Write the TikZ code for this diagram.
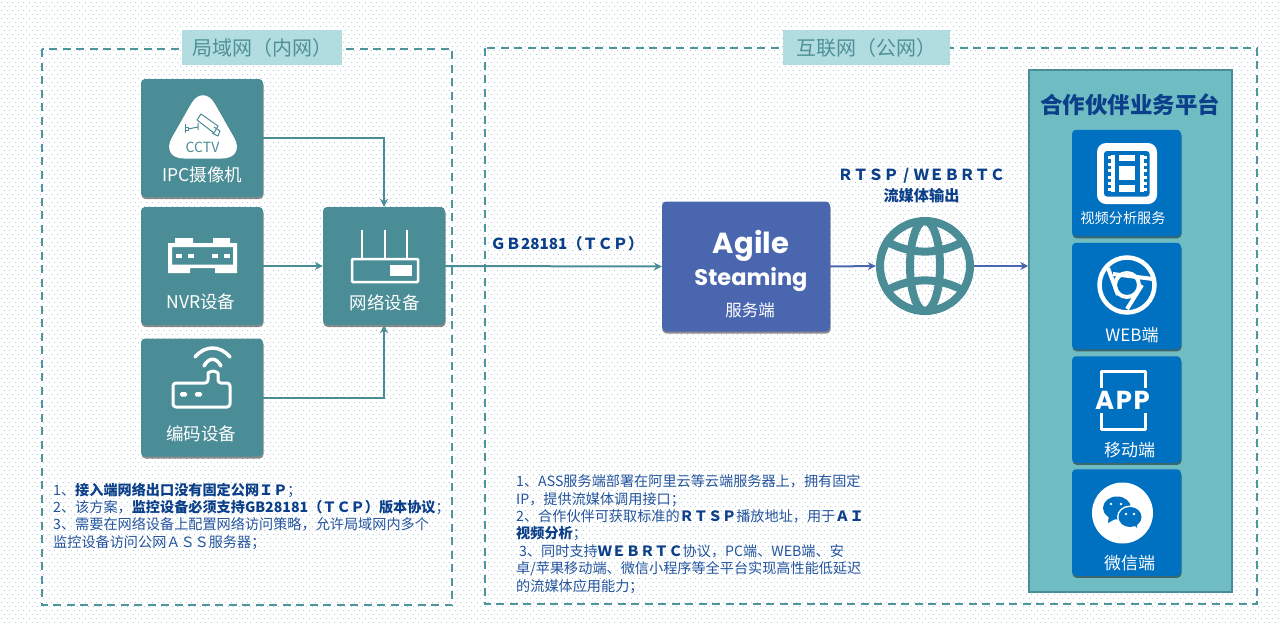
\documentclass[tikz,border=0pt]{standalone}
\usepackage{fontspec}
\setmainfont{Noto Sans CJK SC}
\newfontfamily\logofont{Poppins}
\usetikzlibrary{shadows,arrows.meta,calc}
\definecolor{tealbox}{HTML}{4B8D97}
\definecolor{dashteal}{HTML}{4F959C}
\definecolor{labelbg}{HTML}{B2DDE0}
\definecolor{labeltxt}{HTML}{4F9098}
\definecolor{srvblue}{HTML}{4A66AE}
\definecolor{cardblue}{HTML}{0070C0}
\definecolor{platbg}{HTML}{6FBCC3}
\definecolor{navy}{HTML}{0B3F8A}
\definecolor{parablue}{HTML}{24549E}
\definecolor{dotc}{HTML}{A9CFD2}
\tikzset{
  x=1pt,y=-1pt,
  pic shadow/.style={drop shadow={shadow xshift=0.5pt,shadow yshift=-2pt,opacity=.45,fill=black}},
  anybox/.style={rectangle,rounded corners=4pt,inner sep=0pt,pic shadow},
  tealcard/.style={anybox,fill=tealbox,minimum width=122pt,minimum height=118pt},
  bluecard/.style={anybox,fill=cardblue,minimum width=109pt,minimum height=106.5pt},
  cardtext/.style={text=white,inner sep=0pt,font=\fontsize{17.5}{19}\selectfont},
  smalltext/.style={text=white,inner sep=0pt,font=\fontsize{17}{19}\selectfont},
  regionbox/.style={draw=dashteal,line width=1.8pt,dash pattern=on 8pt off 5.5pt},
  regionlabel/.style={fill=labelbg,text=labeltxt,inner sep=0pt,minimum height=35pt,font=\fontsize{20}{22}\selectfont},
  para/.style={anchor=north west,inner sep=0pt,align=left,text=parablue,font=\fontsize{14.15}{17.4}\selectfont},
  headtext/.style={text=navy,inner sep=0pt,font=\fontsize{15.2}{18}\selectfont\bfseries},
  tealarrow/.style={draw=tealbox,line width=2pt,-{Stealth[length=8pt,width=8pt]}},
  bluearrow/.style={draw=srvblue,line width=2pt,-{Stealth[length=8pt,width=8pt]}},
  iconline/.style={draw=white,line width=3pt,line cap=round,line join=round},
  globeline/.style={draw=tealbox,line width=8pt},
  camline/.style={draw=tealbox,line width=1pt,line join=round},
}
\newcommand{\bd}[1]{\textbf{\textcolor{navy}{#1}}}
\begin{document}
\begin{tikzpicture}
\useasboundingbox (0,0) rectangle (1280,622);
\fill[white] (0,0) rectangle (1280,622);
% dotted paper
\foreach \r in {0,...,77}{
  \pgfmathsetmacro{\yy}{2+8*\r}
  \draw[dotc,line width=1pt,dash pattern=on 1pt off 4.6pt] (1,\yy) -- (1280,\yy);
  \pgfmathsetmacro{\yz}{6+8*\r}
  \draw[dotc,line width=1pt,dash pattern=on 1pt off 4.6pt] (3.8,\yz) -- (1280,\yz);
}
% regions
\draw[regionbox] (42,49) rectangle (452,605);
\draw[regionbox] (485,48) rectangle (1257,604);
\node[regionlabel,minimum width=160pt] (lanlabel) at (262,47.5) {局域网（内网）};
\node[regionlabel,minimum width=167pt] (wanlabel) at (866.5,47.5) {互联网（公网）};

% cards left
\node[tealcard] (ipc) at (202,138) {};
\node[tealcard] (nvr) at (202,266) {};
\node[tealcard] (enc) at (202,397.5) {};
\node[tealcard] (net) at (384,266) {};
\node[anybox,fill=srvblue,minimum width=168pt,minimum height=130pt] (srv) at (746,266.5) {};
\node[circle,inner sep=0pt,minimum size=98pt] (globe) at (925,266) {};

% platform
\node[rectangle,draw=tealbox,line width=1.5pt,fill=platbg,inner sep=0pt,minimum width=203pt,minimum height=522pt] (plat) at (1130.5,331) {};
\node[bluecard] (c1) at (1126.5,183) {};
\node[bluecard] (c2) at (1126.5,296) {};
\node[bluecard] (c3) at (1126.5,409.5) {};
\node[bluecard] (c4) at (1126.5,522.5) {};

% connectors
\draw[tealarrow] (ipc.east) -| (net.north);
\draw[tealarrow] (nvr.east) -- (net.west);
\draw[tealarrow] (enc.east) -| (net.south);
\draw[tealarrow] (net.east) -- (srv.west);
\draw[bluearrow] (srv.east) -- (globe.west);
\draw[bluearrow] (globe.east) -- (globe.east -| plat.west);

% CCTV icon
\fill[white,rounded corners=24pt] (203,83) -- (246,158.5) -- (160,158.5) -- cycle;
\draw[camline] (197,120) -- (201,114) -- (218,126) -- (214,133) -- cycle;
\draw[camline] (214,127) -- (220,131) -- (218,136) -- (212,133);
\draw[camline] (185,124) -- (185,133) (185,127) -- (188,127) -- (188,130) -- (185,130);
\draw[camline] (188,129) -- (198,127) (198,123) -- (198,130);
\node[text=tealbox,inner sep=0pt,font=\fontsize{14}{15}\selectfont] (cctv) at (202.5,147) {CCTV};
\node[cardtext] (ipct) at (202.5,175) {IPC摄像机};

% NVR icon
\fill[white,even odd rule] (168,243) -- (175,243) -- (175,238) -- (193,238) -- (193,243) -- (213,243) -- (213,238) -- (230,238) -- (230,243) -- (237,243) -- (237,273) -- (215,273) -- (215,268) -- (190,268) -- (190,273) -- (168,273) -- cycle (172,247) rectangle (233,264.5);
\foreach \xa in {176,188,212,224}{\fill[white] (\xa,254) rectangle ++(6,3.5);}
\node[cardtext] (nvrt) at (201,302) {NVR设备};

% encoder icon
\draw[iconline,line width=3.5pt] (195,357) .. controls (205,345) and (220,345) .. (230,357);
\draw[iconline,line width=3.5pt] (204,366) .. controls (209,357) and (216,357) .. (221,366);
\draw[iconline,rounded corners=3pt] (208,383) -- (208,376) arc[start angle=180,end angle=360,radius=5] -- (218,383) -- (230,383) -- (230,407) -- (173,407) -- (173,383) -- cycle;
\fill[white,rounded corners=1.5pt] (180,392) rectangle (187,396.5);
\fill[white,rounded corners=1.5pt] (195,392) rectangle (202,396.5);
\node[cardtext] (enct) at (201,434) {编码设备};

% network icon
\foreach \xa in {362,385,407}{\draw[draw=white,line width=2.5pt] (\xa,230) -- (\xa,259);}
\draw[draw=white,line width=2.5pt,rounded corners=1pt] (352,259) rectangle (418,282);
\fill[white] (390,265) rectangle (412,276);
\node[cardtext] (nett) at (384.5,303) {网络设备};

% server
\node[text=white,inner sep=0pt,font=\fontsize{29}{32}\selectfont\logofont\bfseries] (agile) at (751,246) {Agile};
\node[text=white,inner sep=0pt,font=\fontsize{22.5}{26}\selectfont\logofont\bfseries] (steam) at (751,280) {Steaming};
\node[text=white,inner sep=0pt,font=\fontsize{16.5}{18}\selectfont] (srvt) at (750,310) {服务端};

% globe
\draw[globeline] (globe.center) circle[radius=45];
\draw[globeline] (globe.center) ellipse[x radius=15,y radius=45];
\draw[globeline] ($(globe.center)+(-41,-26)$) .. controls ($(globe.center)+(-15,-10.5)$) and ($(globe.center)+(15,-10.5)$) .. ($(globe.center)+(41,-26)$);
\draw[globeline] ($(globe.center)+(-41,26)$) .. controls ($(globe.center)+(-15,10.5)$) and ($(globe.center)+(15,10.5)$) .. ($(globe.center)+(41,26)$);

% labels
\node[headtext] (gblabel) at (567,243.5) {ＧＢ28181（ＴＣＰ）};
\node[headtext] (rtsp) at (921.5,176) {ＲＴＳＰ\makebox[15.2pt]{/}ＷＥＢＲＴＣ};
\node[headtext] (liumei) at (921.5,196) {流媒体输出};

% platform title
\node[text=navy,inner sep=0pt,font=\fontsize{22.5}{25}\selectfont\bfseries] (plattitle) at (1130,105) {合作伙伴业务平台};

% film icon
\fill[white,rounded corners=9pt] (1097,143) rectangle (1157,204);
\fill[cardblue,rounded corners=3pt] (1104,151) rectangle (1149.5,196.5);
\fill[white] (1119,155) rectangle (1135,161);
\fill[white] (1119,166) rectangle (1135,180);
\fill[white] (1119,185) rectangle (1135,192);
\fill[white] (1111,155) rectangle (1114.5,192);
\fill[white] (1140,155) rectangle (1143.5,192);
\foreach \ya in {156,162.5,169,175.5,182,188}{
  \fill[white] (1107.5,\ya) rectangle ++(4,3);
  \fill[white] (1143,\ya) rectangle ++(4,3);
}
\node[smalltext,font=\fontsize{14.2}{16}\selectfont] (c1t) at (1123,218) {视频分析服务};

% chrome icon
\draw[draw=white,line width=4.5pt] (1127,285) circle[radius=27.5];
\draw[draw=white,line width=4pt] (1127,285) circle[radius=12];
\draw[draw=white,line width=4pt] (1113,274) -- (1153,279);
\draw[draw=white,line width=4pt] (1108,268) -- (1118,295);
\draw[draw=white,line width=4pt] (1127,309) -- (1142,285);
\node[smalltext] (c2t) at (1132,335) {WEB端};

% app icon
\draw[iconline,line cap=butt] (1101.5,388) -- (1101.5,371) -- (1145,371) -- (1145,388);
\draw[iconline,line cap=butt] (1101.5,413) -- (1101.5,429) -- (1145,429) -- (1145,413);
\node[text=white,inner sep=0pt,font=\fontsize{26}{28}\selectfont\logofont\addfontfeature{LetterSpace=6}\bfseries] (apptxt) at (1122.5,400) {APP};
\node[smalltext] (c3t) at (1129.5,450) {移动端};

% wechat icon
\fill[white] (1122.5,513) circle[radius=30.5];
\fill[cardblue] (1117,508) ellipse[x radius=14,y radius=11.5];
\fill[cardblue] (1109,514) -- (1108,523) -- (1117,518) -- cycle;
\fill[white] (1130,517) ellipse[x radius=13,y radius=11.5];
\fill[cardblue] (1130,517) ellipse[x radius=11.5,y radius=10];
\fill[cardblue] (1133,524) -- (1137,528) -- (1137,521) -- cycle;
\fill[white] (1111,504) circle[radius=1.4];
\fill[white] (1121,504) circle[radius=1.4];
\fill[white] (1126,514) circle[radius=1.3];
\fill[white] (1134,514) circle[radius=1.3];
\node[smalltext] (c4t) at (1129.5,563) {微信端};

% paragraphs
\node[para] (lefttext) at (53,482.5) {1、\bd{接入端网络出口没有固定公网ＩＰ}；\\
2、该方案，\bd{监控设备必须支持GB28181（ＴＣＰ）版本协议}；\\
3、需要在网络设备上配置网络访问策略，允许局域网内多个\\
监控设备访问公网ＡＳＳ服务器；};
\node[para] (righttext) at (516,474.5) {1、ASS服务端部署在阿里云等云端服务器上，拥有固定\\
IP，提供流媒体调用接口；\\
2、合作伙伴可获取标准的\bd{ＲＴＳＰ}播放地址，用于\bd{ＡＩ}\\
\bd{视频分析}；\\
\hspace*{3pt}3、同时支持\bd{ＷＥＢＲＴＣ}协议，PC端、WEB端、安\\
卓/苹果移动端、微信小程序等全平台实现高性能低延迟\\
的流媒体应用能力；};
\end{tikzpicture}
\end{document}
